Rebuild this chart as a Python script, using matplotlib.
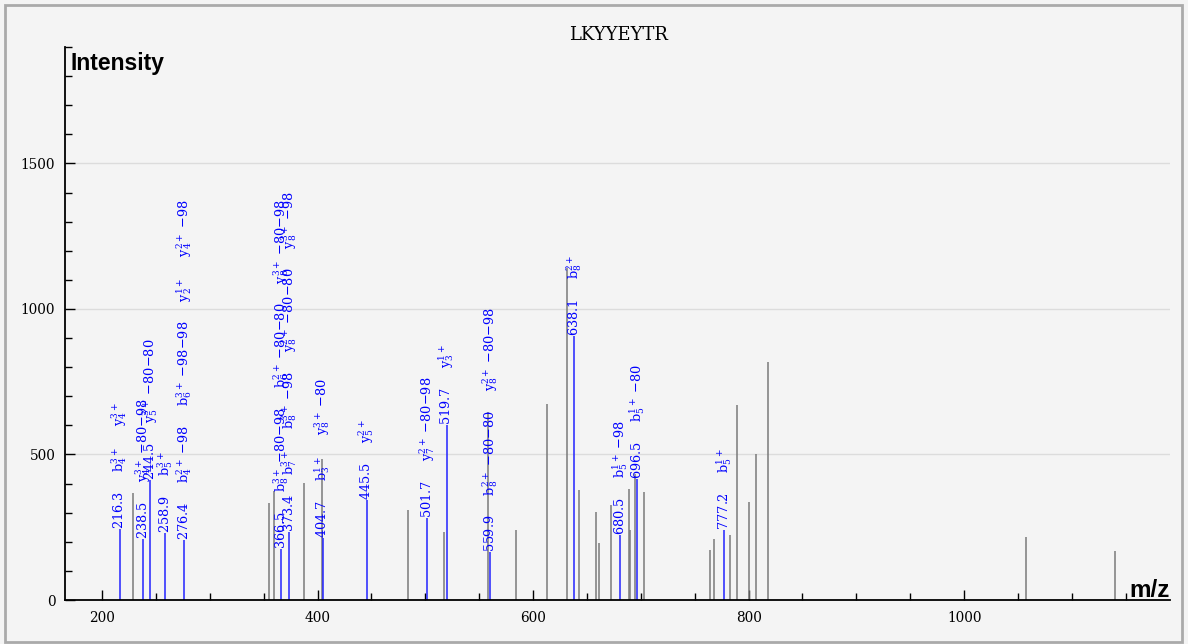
import matplotlib
matplotlib.use("Agg")
import matplotlib.pyplot as plt
from matplotlib.ticker import MultipleLocator
from matplotlib.patches import Rectangle

title = "LKYYEYTR"

# unannotated peaks (m/z, intensity)
gray_mz = [229.0, 355.3, 359.9, 387.5, 403.9, 484.3, 517.1, 558.0, 584.0, 612.7,
           631.3, 643.0, 658.5, 661.6, 672.1, 689.4, 690.3, 694.9, 703.0, 764.6,
           768.3, 782.8, 789.3, 800.5, 807.3, 817.8, 1057.2, 1140.0]
gray_int = [367, 333, 376, 402, 485, 309, 235, 645, 240, 673,
            1140, 378, 304, 197, 326, 381, 240, 433, 372, 172,
            210, 223, 670, 336, 500, 819, 217, 170]

# annotated peaks
blue_mz = [216.3, 238.5, 244.5, 258.9, 276.4, 366.5, 373.4, 404.7, 445.5,
           501.7, 519.7, 559.9, 638.1, 680.5, 696.5, 777.2]
blue_int = [244, 210, 412, 230, 206, 175, 235, 213, 344,
            282, 601, 166, 907, 223, 416, 241]
blue_ions = [
    ["b$_4^{3+}$", "y$_4^{3+}$"],
    ["y$_4^{3+}$ −80−98"],
    ["y$_5^{3+}$ −80−80"],
    ["b$_5^{3+}$"],
    ["b$_4^{2+}$ −98", "b$_6^{3+}$ −98−98", "y$_2^{1+}$", "y$_4^{2+}$ −98"],
    ["b$_8^{3+}$ −80−98", "b$_6^{2+}$ −80−80", "y$_8^{3+}$ −80−98"],
    ["b$_7^{3+}$", "b$_8^{3+}$ −98", "y$_8^{2+}$ −80−80", "y$_8^{3+}$ −98"],
    ["b$_3^{1+}$", "y$_8^{3+}$ −80"],
    ["y$_5^{2+}$"],
    ["y$_7^{2+}$ −80−98"],
    ["y$_3^{1+}$"],
    ["b$_8^{2+}$ −80−80", "y$_8^{2+}$ −80−98"],
    ["b$_8^{2+}$"],
    ["b$_5^{1+}$ −98"],
    ["b$_5^{1+}$ −80"],
    ["b$_5^{1+}$"],
]

plt.rcParams['mathtext.fontset'] = 'dejavuserif'
bg = '#f4f4f4'

fig = plt.figure(figsize=(11.88, 6.44), dpi=100, facecolor=bg)
ax = fig.add_axes([65 / 1188, 1 - 600 / 644, 1105 / 1188, 553 / 644])
ax.set_facecolor(bg)

ax.vlines(gray_mz, 0, gray_int, color='#7a7a7a', lw=1.1)
ax.vlines(blue_mz, 0, blue_int, color='#2222ff', lw=1.1)

for mz, h, ions in zip(blue_mz, blue_int, blue_ions):
    label = "     ".join([f"{mz:.1f}"] + ions)
    ax.text(mz, h, label, rotation=90, ha='center', va='bottom',
            color='#0000ff', fontsize=9.3, family='DejaVu Serif')

ax.set_xlim(165.7, 1191)
ax.set_ylim(0, 1900)
ax.xaxis.set_major_locator(MultipleLocator(200))
ax.xaxis.set_minor_locator(MultipleLocator(50))
ax.yaxis.set_major_locator(MultipleLocator(500))
ax.yaxis.set_minor_locator(MultipleLocator(100))
ax.tick_params(which='both', direction='in', color='black', width=1,
               labelsize=9.8, labelfontfamily='DejaVu Serif')
ax.tick_params(which='major', length=7)
ax.tick_params(which='minor', length=5)
ax.tick_params(axis='x', pad=8)
ax.tick_params(axis='y', pad=7)
ax.grid(axis='y', which='major', color='#dcdcdc', lw=1)
ax.set_axisbelow(True)
for s in ['top', 'right']:
    ax.spines[s].set_visible(False)
for s in ['left', 'bottom']:
    ax.spines[s].set_linewidth(1.3)

fig.text(618 / 1188, 1 - 35 / 644, title, ha='center', va='center',
         family='DejaVu Serif', fontsize=13)
fig.text(71 / 1188, 1 - 70 / 644, "Intensity", ha='left', va='baseline',
         family='Liberation Sans', weight='bold', fontsize=16.5)
fig.text(1170 / 1188, 1 - 597 / 644, "m/z", ha='right', va='baseline',
         family='Liberation Sans', weight='bold', fontsize=17.5)

fig.patches.append(Rectangle((5 / 1188, 2 / 644), 1177 / 1188, 637 / 644,
                             transform=fig.transFigure, fill=False,
                             edgecolor='#aaaaaa', lw=2))

fig.savefig("out.png", dpi=100, facecolor=bg)
